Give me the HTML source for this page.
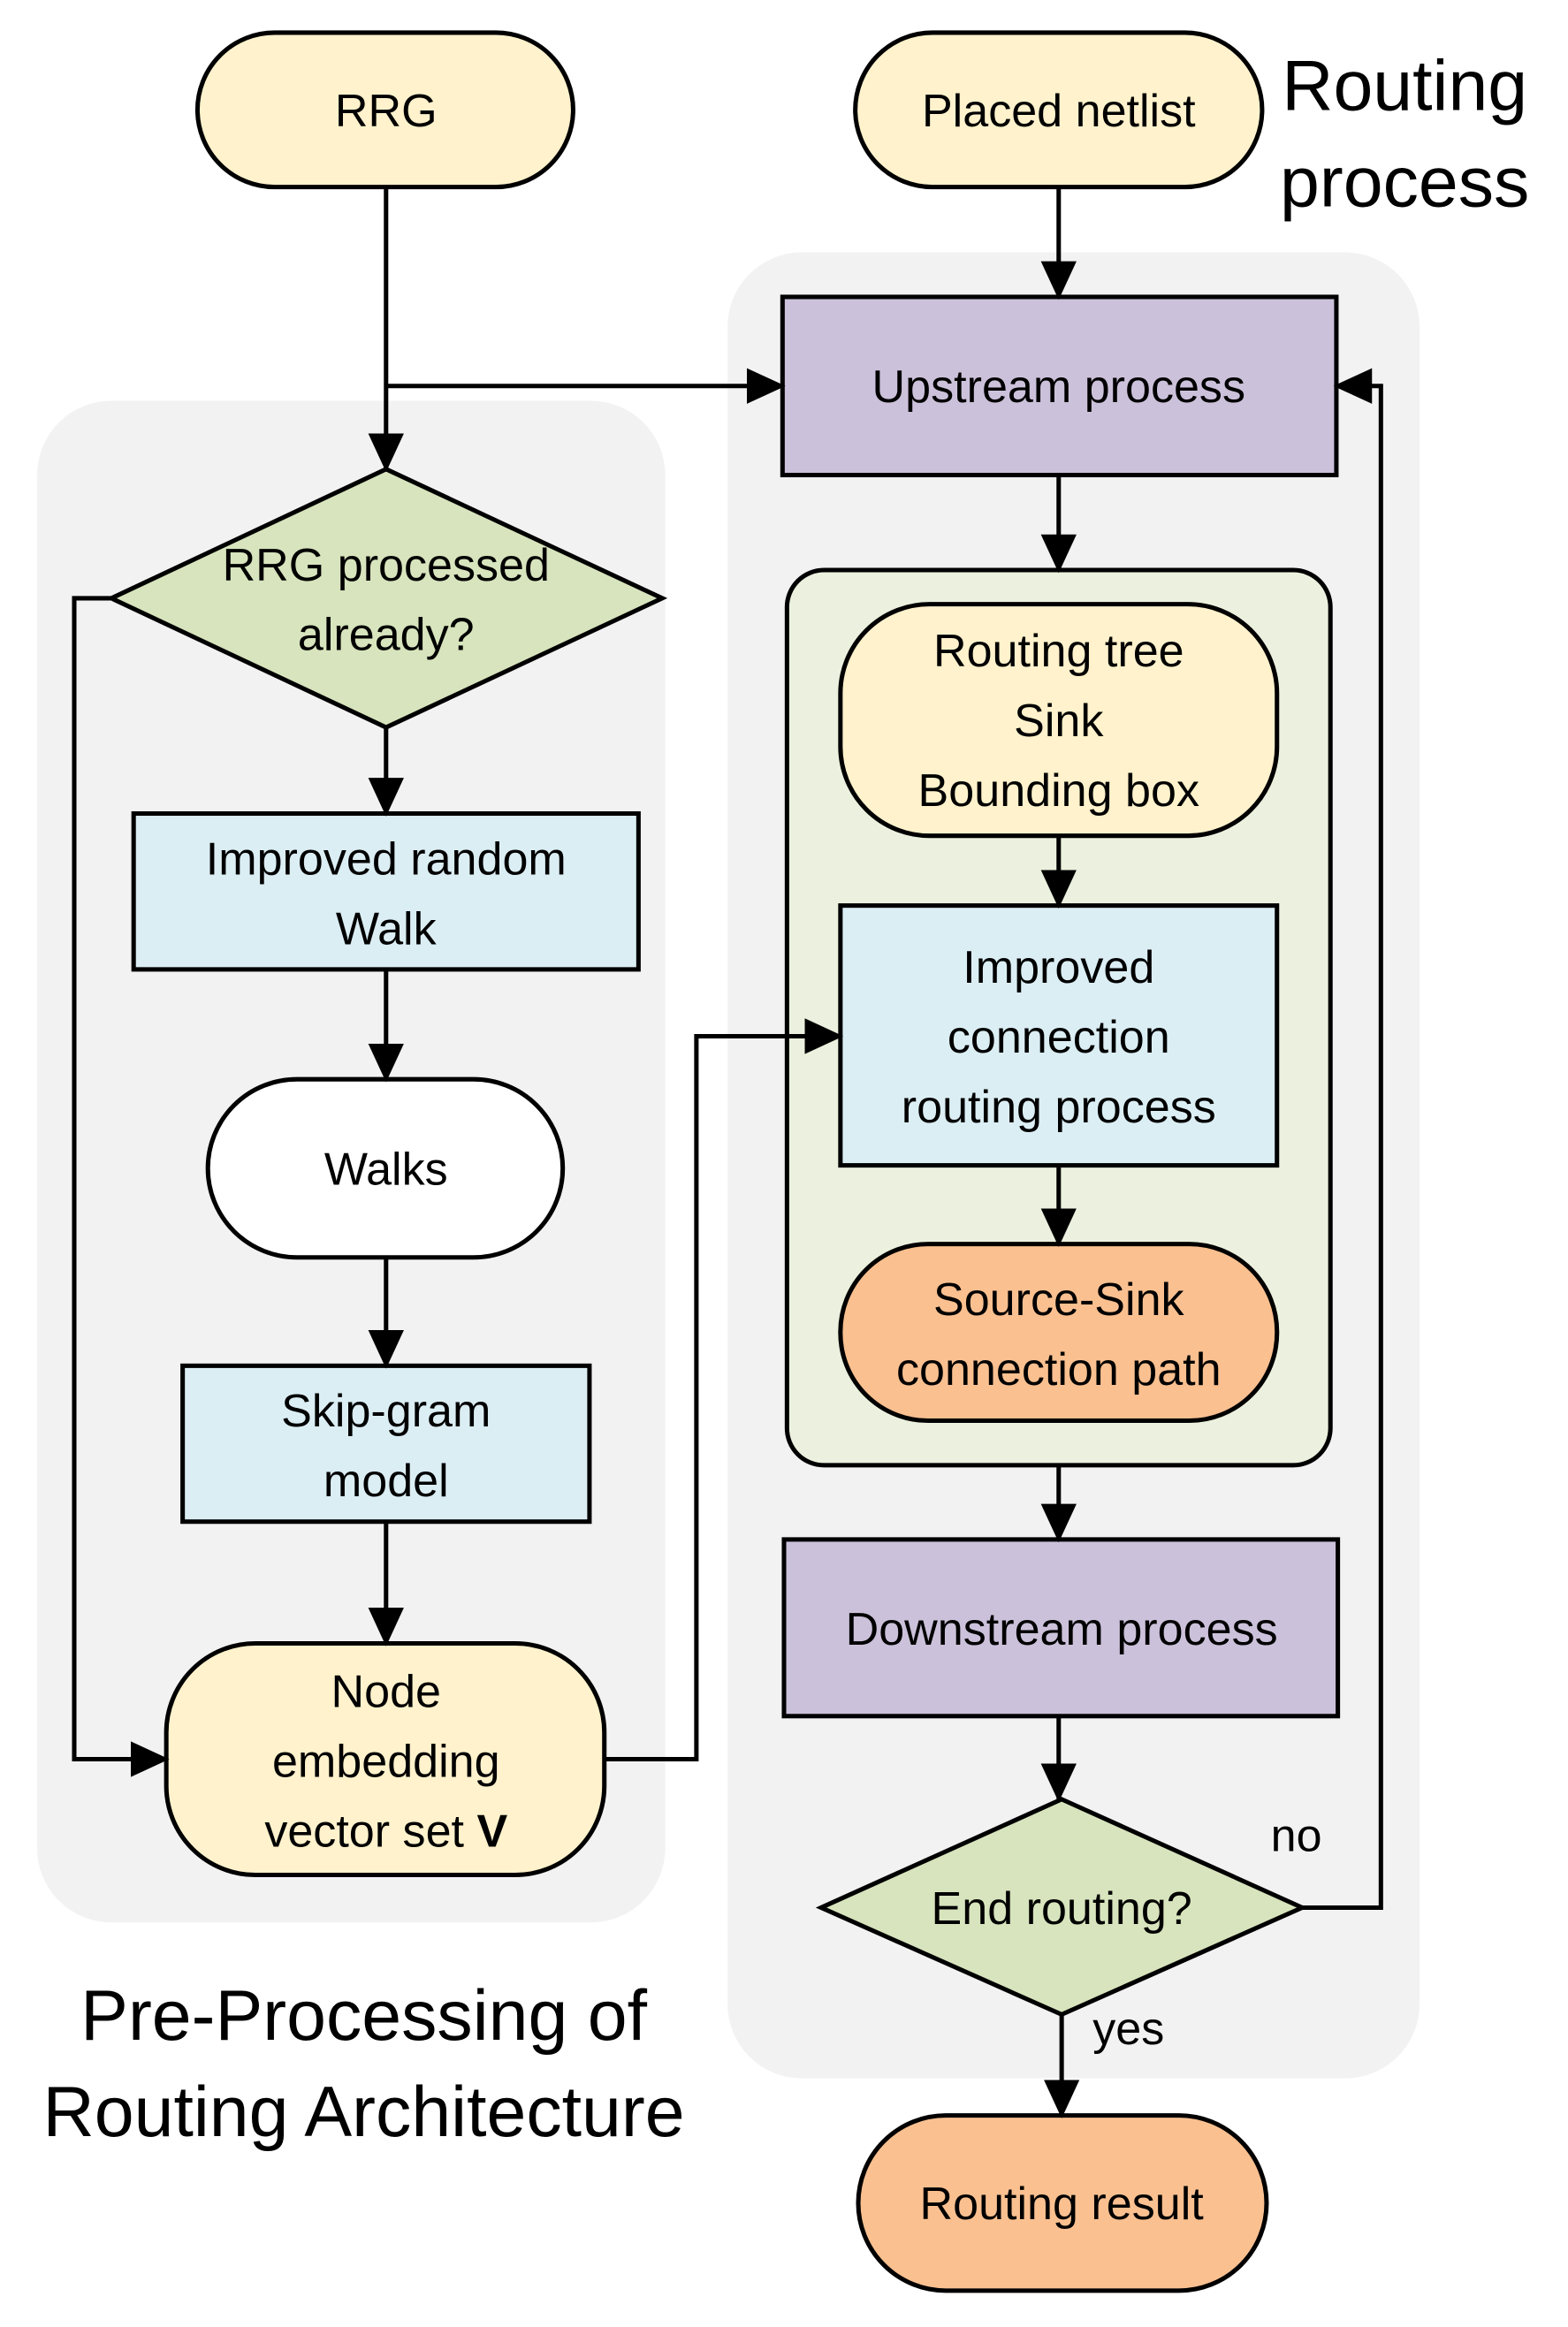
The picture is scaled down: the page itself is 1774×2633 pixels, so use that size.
<!DOCTYPE html>
<html><head><meta charset="utf-8"><style>
html,body{margin:0;padding:0;background:#fff}
svg{display:block}
text{font-family:"Liberation Sans",sans-serif;fill:#000}
</style></head><body>
<svg width="1774" height="2633" viewBox="0 0 1056 1567.5" preserveAspectRatio="none" xmlns="http://www.w3.org/2000/svg">
<defs>
<marker id="b" markerWidth="26" markerHeight="26" refX="24" refY="13" orient="auto" markerUnits="userSpaceOnUse" viewBox="0 0 26 26"><path d="M0,1 L26,13 L0,25 z" fill="#000"/></marker></defs>
<rect x="490" y="170" width="466" height="1230" rx="50" fill="#f2f2f2"/>
<rect x="25" y="270" width="423" height="1025" rx="50" fill="#f2f2f2"/>
<g stroke="#000" stroke-width="3">
<rect x="530" y="384" width="366" height="603" rx="25" fill="#ebf1de"/>
<rect x="133" y="22" width="253" height="104" rx="52" fill="#fff2cc"/>
<rect x="576" y="22" width="274" height="104" rx="52" fill="#fff2cc"/>
<rect x="527" y="200" width="373" height="120" fill="#ccc1da"/>
<polygon points="75,403 260,316 446,403 260,490" fill="#d7e4bd"/>
<rect x="90" y="548" width="340" height="105" fill="#dbeef4"/>
<rect x="140" y="727" width="239" height="120" rx="60" fill="#fff"/>
<rect x="123" y="920" width="274" height="105" fill="#dbeef4"/>
<rect x="112" y="1107" width="295" height="156" rx="60" fill="#fff2cc"/>
<rect x="566" y="407" width="294" height="156" rx="60" fill="#fff2cc"/>
<rect x="566" y="610" width="294" height="175" fill="#dbeef4"/>
<rect x="566" y="838" width="294" height="119" rx="59" fill="#fac090"/>
<rect x="528" y="1037" width="373" height="119" fill="#ccc1da"/>
<polygon points="553,1285 715,1212 877,1285 715,1357" fill="#d7e4bd"/>
<rect x="578" y="1425" width="275" height="118" rx="59" fill="#fac090"/>
<g fill="none" marker-end="url(#b)">
<path d="M260,126 V316"/>
<path d="M260,260 H527"/>
<path d="M713,126 V200"/>
<path d="M713,320 V384"/>
<path d="M713,563 V610"/>
<path d="M713,785 V838"/>
<path d="M713,987 V1037"/>
<path d="M713,1156 V1212"/>
<path d="M715,1357 V1425"/>
<path d="M877,1285 H930 V260 H900"/>
<path d="M75,403 H50 V1185 H112"/>
<path d="M260,490 V548"/>
<path d="M260,653 V727"/>
<path d="M260,847 V920"/>
<path d="M260,1025 V1107"/>
<path d="M407,1185 H469 V698 H566"/>
</g></g>
<g font-size="31" text-anchor="middle">
<text x="260" y="85">RRG</text>
<text x="713" y="85">Placed netlist</text>
<text x="713" y="271">Upstream process</text>
<text x="260" y="391">RRG processed</text>
<text x="260" y="438">already?</text>
<text x="260" y="589">Improved random</text>
<text x="260" y="636">Walk</text>
<text x="260" y="798">Walks</text>
<text x="260" y="961">Skip-gram</text>
<text x="260" y="1008">model</text>
<text x="260" y="1150">Node</text>
<text x="260" y="1197">embedding</text>
<text x="260" y="1244">vector set <tspan font-weight="bold">V</tspan></text>
<text x="713" y="449">Routing tree</text>
<text x="713" y="496">Sink</text>
<text x="713" y="543">Bounding box</text>
<text x="713" y="662">Improved</text>
<text x="713" y="709">connection</text>
<text x="713" y="756">routing process</text>
<text x="713" y="886">Source-Sink</text>
<text x="713" y="933">connection path</text>
<text x="715" y="1108">Downstream process</text>
<text x="715" y="1296">End routing?</text>
<text x="715" y="1495">Routing result</text>
<text x="873" y="1247">no</text>
<text x="760" y="1377">yes</text>
</g>
<g font-size="48" text-anchor="middle">
<text x="946" y="74">Routing</text>
<text x="946" y="139">process</text>
<text x="245" y="1374">Pre-Processing of</text>
<text x="245" y="1439">Routing Architecture</text>
</g>
</svg>
</body></html>
